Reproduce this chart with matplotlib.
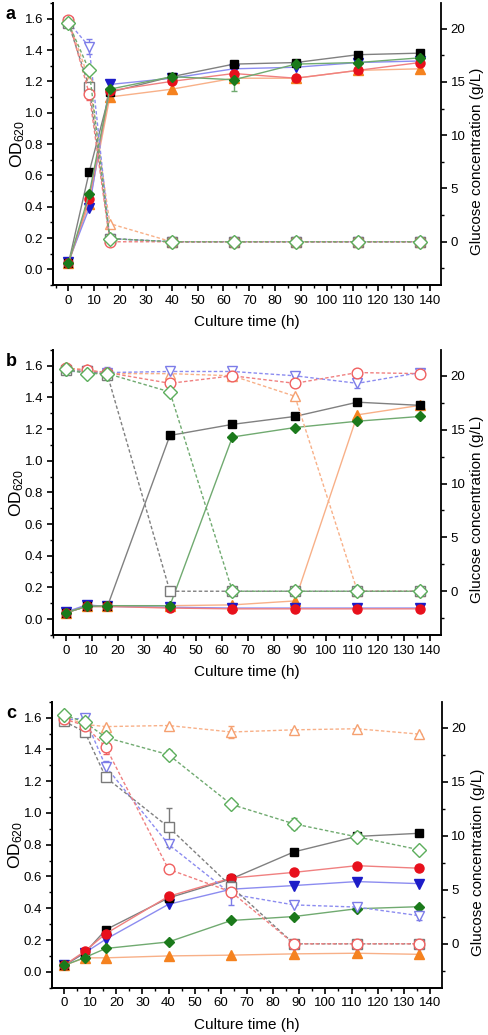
import matplotlib
matplotlib.use("Agg")
import matplotlib.pyplot as plt
from matplotlib.ticker import MultipleLocator, FormatStrFormatter

plt.rcParams['font.family'] = ['Liberation Sans', 'DejaVu Sans']
plt.rcParams['mathtext.default'] = 'regular'

# ---------------- data ----------------
time_h = [0, 8, 16, 40, 64, 88, 112, 136]
strains = ['orange', 'blue', 'black', 'red', 'green']

# Panel a
a_od_black = [0.04, 0.62, 1.13, 1.23, 1.31, 1.32, 1.37, 1.38]
a_od_red = [0.04, 0.45, 1.14, 1.20, 1.25, 1.22, 1.27, 1.32]
a_od_blue = [0.05, 0.39, 1.18, 1.22, 1.28, 1.29, 1.32, 1.33]
a_od_green = [0.04, 0.48, 1.15, 1.23, 1.21, 1.31, 1.32, 1.35]
a_od_orange = [0.04, 0.42, 1.10, 1.15, 1.22, 1.22, 1.27, 1.28]
a_glc_black = [20.5, 14.5, 0.3, 0, 0, 0, 0, 0]
a_glc_red = [20.8, 13.9, 0.0, 0, 0, 0, 0, 0]
a_glc_blue = [20.6, 18.3, 0.3, 0, 0, 0, 0, 0]
a_glc_green = [20.5, 16.1, 0.3, 0, 0, 0, 0, 0]
a_glc_orange = [20.7, 15.2, 1.7, 0, 0, 0, 0, 0]
a_od_err_green = [0, 0, 0, 0, 0.07, 0, 0, 0]
a_glc_err_blue = [0, 0.7, 0, 0, 0, 0, 0, 0]
a_glc_err_red = [0, 0.6, 0, 0, 0, 0, 0, 0]

# Panel b
b_od_black = [0.04, 0.08, 0.08, 1.16, 1.23, 1.28, 1.37, 1.35]
b_od_red = [0.04, 0.08, 0.08, 0.07, 0.065, 0.065, 0.065, 0.065]
b_od_blue = [0.045, 0.09, 0.08, 0.075, 0.07, 0.07, 0.07, 0.07]
b_od_green = [0.04, 0.08, 0.085, 0.085, 1.15, 1.21, 1.25, 1.28]
b_od_orange = [0.04, 0.08, 0.08, 0.085, 0.09, 0.115, 1.29, 1.35]
b_glc_black = [20.5, 20.4, 20.1, 0, 0, 0, 0, 0]
b_glc_red = [20.7, 20.5, 20.3, 19.3, 20.0, 19.3, 20.3, 20.2]
b_glc_blue = [20.4, 20.4, 20.3, 20.4, 20.4, 20.0, 19.3, 20.3]
b_glc_green = [20.6, 20.2, 20.2, 18.5, 0, 0, 0, 0]
b_glc_orange = [20.7, 20.6, 20.2, 20.2, 20.0, 18.1, 0, 0]
b_od_err_black = [0, 0, 0, 0.02, 0, 0, 0.02, 0]
b_glc_err_blue = [0, 0, 0.5, 0.3, 0, 0, 0.4, 0]
b_glc_err_green = [0, 0, 0, 0.4, 0, 0, 0, 0]
b_glc_err_orange = [0, 0, 0, 0.3, 0, 0, 0, 0]

# Panel c
c_od_black = [0.04, 0.12, 0.265, 0.465, 0.585, 0.755, 0.852, 0.872]
c_od_red = [0.04, 0.13, 0.24, 0.475, 0.59, 0.626, 0.668, 0.652]
c_od_blue = [0.04, 0.12, 0.205, 0.425, 0.52, 0.543, 0.568, 0.555]
c_od_green = [0.04, 0.09, 0.147, 0.188, 0.323, 0.348, 0.397, 0.41]
c_od_orange = [0.04, 0.088, 0.088, 0.10, 0.105, 0.113, 0.117, 0.11]
c_glc_black = [20.6, 19.6, 15.4, 10.8, 5.3, 0, 0, 0]
c_glc_red = [20.8, 20.2, 18.2, 6.9, 4.8, 0, 0, 0]
c_glc_blue = [20.7, 20.9, 16.4, 9.2, 4.6, 3.6, 3.4, 2.6]
c_glc_green = [21.2, 20.5, 19.1, 17.5, 12.9, 11.1, 9.9, 8.7]
c_glc_orange = [21.0, 20.3, 20.1, 20.2, 19.6, 19.8, 19.9, 19.4]
c_od_err_black = [0, 0, 0, 0, 0.03, 0, 0, 0.02]
c_glc_err_black = [0, 0, 0, 1.8, 0.5, 0, 0, 0]
c_glc_err_blue = [0, 0, 0.5, 0, 1.0, 0, 0, 0.4]
c_glc_err_red = [0, 0, 0.6, 0, 0, 0, 0, 0]
c_glc_err_green = [0, 0, 0, 0.4, 0, 0.5, 0, 0]
c_glc_err_orange = [0, 0, 0, 0, 0.6, 0, 0, 0]

panels = {
    'a': dict(od=dict(black=a_od_black, red=a_od_red, blue=a_od_blue, green=a_od_green, orange=a_od_orange),
              glc=dict(black=a_glc_black, red=a_glc_red, blue=a_glc_blue, green=a_glc_green, orange=a_glc_orange),
              od_err=dict(green=a_od_err_green),
              glc_err=dict(blue=a_glc_err_blue, red=a_glc_err_red),
              xlim=(-6, 144.2)),
    'b': dict(od=dict(black=b_od_black, red=b_od_red, blue=b_od_blue, green=b_od_green, orange=b_od_orange),
              glc=dict(black=b_glc_black, red=b_glc_red, blue=b_glc_blue, green=b_glc_green, orange=b_glc_orange),
              od_err=dict(black=b_od_err_black),
              glc_err=dict(blue=b_glc_err_blue, green=b_glc_err_green, orange=b_glc_err_orange),
              xlim=(-5, 144.1)),
    'c': dict(od=dict(black=c_od_black, red=c_od_red, blue=c_od_blue, green=c_od_green, orange=c_od_orange),
              glc=dict(black=c_glc_black, red=c_glc_red, blue=c_glc_blue, green=c_glc_green, orange=c_glc_orange),
              od_err=dict(black=c_od_err_black),
              glc_err=dict(black=c_glc_err_black, blue=c_glc_err_blue, red=c_glc_err_red,
                           green=c_glc_err_green, orange=c_glc_err_orange),
              xlim=(-4.7, 144.5)),
}

styles = {
    'black': dict(marker='s', mc='#000000', lc='#808080', oc='#7a7a7a', ms=6.0),
    'red': dict(marker='o', mc='#e8101c', lc='#f08080', oc='#f06060', ms=6.5),
    'blue': dict(marker='v', mc='#1c1cc8', lc='#8c8cf0', oc='#7c7ce8', ms=6.5),
    'green': dict(marker='D', mc='#1b7a1b', lc='#70aa70', oc='#5cae5c', ms=5.5),
    'orange': dict(marker='^', mc='#f5821f', lc='#f8b088', oc='#f5a070', ms=6.5),
}

# axes placement (figure fractions)
positions = {
    'a': [0.1086, 0.7246, 0.7951, 0.2725],
    'b': [0.1080, 0.3865, 0.7957, 0.2754],
    'c': [0.1059, 0.0457, 0.7992, 0.2763],
}

fig = plt.figure(figsize=(4.88, 10.35), dpi=100)

for key in ['a', 'b', 'c']:
    p = panels[key]
    pos = positions[key]
    ax = fig.add_axes(pos)
    ax2 = ax.twinx()
    for s in strains:
        st = styles[s]
        err = p['od_err'].get(s)
        ax.errorbar(time_h, p['od'][s], yerr=err, color=st['lc'], lw=1.0,
                    marker=st['marker'], ms=st['ms'], mfc=st['mc'], mec=st['mc'],
                    ecolor=st['lc'], elinewidth=1.0, capsize=2.5, capthick=1.0, zorder=3)
    for s in strains:
        st = styles[s]
        err = p['glc_err'].get(s)
        ax2.errorbar(time_h, p['glc'][s], yerr=err, color=st['lc'], lw=1.0, ls=(0, (2.5, 1.6)),
                     marker=st['marker'], ms=st['ms'] + 1.2, mfc='white', mec=st['oc'], mew=1.0,
                     ecolor=st['oc'], elinewidth=1.0, capsize=2.5, capthick=1.0, zorder=3)

    ax.set_xlim(*p['xlim'])
    ax.set_ylim(-0.1, 1.7)
    ax2.set_ylim(-4.06, 22.4)
    ax.xaxis.set_major_locator(MultipleLocator(10))
    ax.xaxis.set_minor_locator(MultipleLocator(5))
    ax.yaxis.set_major_locator(MultipleLocator(0.2))
    ax.yaxis.set_minor_locator(MultipleLocator(0.1))
    ax.yaxis.set_major_formatter(FormatStrFormatter('%.1f'))
    ax2.yaxis.set_major_locator(MultipleLocator(5))
    ax2.yaxis.set_minor_locator(MultipleLocator(2.5))
    ax.set_yticks([0.0, 0.2, 0.4, 0.6, 0.8, 1.0, 1.2, 1.4, 1.6])
    ax2.set_yticks([0, 5, 10, 15, 20])

    for a_ in (ax, ax2):
        a_.spines['top'].set_visible(False)
        for sp in a_.spines.values():
            sp.set_linewidth(1.3)
        a_.tick_params(which='major', direction='out', length=4.5, width=1.2, labelsize=9.5, pad=2.5)
        a_.tick_params(which='minor', direction='out', length=2.5, width=1.0)
    ax.spines['right'].set_visible(False)

    ax.set_xlabel('Culture time (h)', fontsize=11, labelpad=6)
    ax.set_ylabel('OD$_{620}$', fontsize=12.5)
    ax.yaxis.set_label_coords(-0.068, 0.5)
    ax2.set_ylabel('Glucose concentration (g/L)', fontsize=11)
    ax2.yaxis.set_label_coords(1.074, 0.44)

    fig.text(0.012, pos[1] + pos[3] - 0.003, key, fontsize=13,
             fontweight='bold', va='top', ha='left')

fig.savefig('out.png', dpi=100)
